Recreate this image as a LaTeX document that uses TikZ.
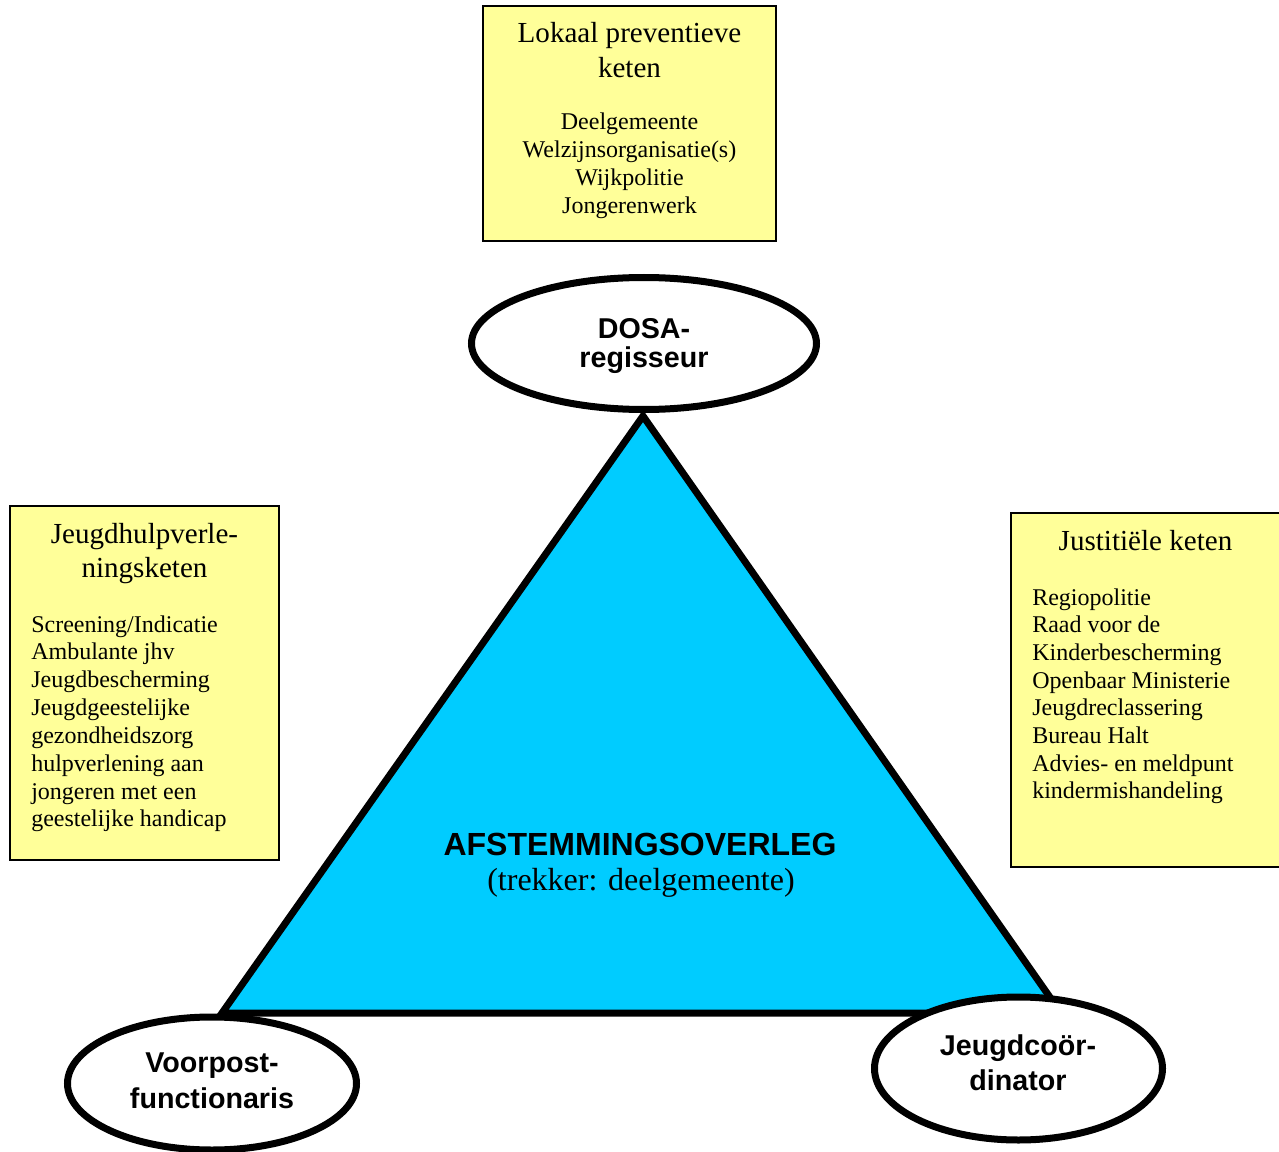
\documentclass[tikz,border=0pt]{standalone}
\usepackage{fontspec}
\setmainfont{Liberation Serif}
\newfontfamily\arialfont{Liberation Sans}
\usetikzlibrary{shapes.geometric}
\definecolor{boxyellow}{HTML}{FFFF99}
\definecolor{triblue}{HTML}{00CCFF}
\begin{document}
\begin{tikzpicture}[x=0.75pt,y=-0.75pt,
  box/.style={draw=black, line width=1.5pt, fill=boxyellow, rectangle, inner sep=0pt},
  ell/.style={draw=black, line width=5.25pt, fill=white, ellipse, inner sep=0pt},
  ttl/.style={font=\fontsize{21.8}{26}\selectfont, anchor=base, inner sep=0pt},
  bdy/.style={font=\fontsize{18}{21}\selectfont, anchor=base, inner sep=0pt},
  bdyl/.style={bdy, anchor=base west},
  elt/.style={font=\arialfont\bfseries\fontsize{21.5}{26}\selectfont, anchor=base, inner sep=0pt},
  ctr/.style={font=\arialfont\bfseries\fontsize{24}{28}\selectfont, anchor=base, inner sep=0pt},
  ctrs/.style={font=\fontsize{24}{28}\selectfont, anchor=base, inner sep=0pt}]
\useasboundingbox (0,0) rectangle (1279,1152);
\fill[white] (0,0) rectangle (1279,1152);

% yellow boxes
\node[box, minimum width=219.75pt, minimum height=176.25pt] (lokaal) at (629.5,123.5) {};
\node[box, minimum width=201.75pt, minimum height=265.5pt] (jhv) at (144.5,683) {};
\node[box, minimum width=203.25pt, minimum height=265.5pt] (just) at (1146.5,690) {};

% top box text
\node[ttl] (lk1) at (629.5,43) {Lokaal preventieve};
\node[ttl] (lk2) at (629.5,78) {keten};
\foreach \t [count=\i] in {Deelgemeente,Welzijnsorganisatie(s),Wijkpolitie,Jongerenwerk}
  \node[bdy] (lb\i) at (629.5,{130+27.7*(\i-1)}) {\t};

% left box text
\node[ttl] (jh1) at (144.5,543) {Jeugdhulpverle-};
\node[ttl] (jh2) at (144.5,577) {ningsketen};
\foreach \t [count=\i] in {Screening/Indicatie,Ambulante jhv,Jeugdbescherming,Jeugdgeestelijke,gezondheidszorg,hulpverlening aan,jongeren met een,geestelijke handicap}
  \node[bdyl] (jb\i) at (31,{632+27.85*(\i-1)}) {\t};

% right box text
\node[ttl] (js1) at (1145.5,550) {Justitiële keten};
\foreach \t [count=\i] in {Regiopolitie,Raad voor de,Kinderbescherming,Openbaar Ministerie,Jeugdreclassering,Bureau Halt,Advies- en meldpunt,kindermishandeling}
  \node[bdyl] (jsb\i) at (1032,{605+27.7*(\i-1)}) {\t};

% triangle
\coordinate (apex) at (643,416);
\coordinate (bl) at (222,1013);
\coordinate (br) at (1061,1013);
\draw[fill=triblue, line width=5.25pt, line join=miter] (apex) -- (bl) -- (br) -- cycle;
\node[ctr] (af) at (640,855) {AFSTEMMINGSOVERLEG};
\node[ctrs] (tr) at (641,890) {(trekker: deelgemeente)};

% ellipses
\node[ell, minimum width=258.75pt, minimum height=99pt] (dosa) at (644,343.5) {};
\node[ell, minimum width=216.75pt, minimum height=99.75pt] (voor) at (212,1083.5) {};
\node[ell, minimum width=216pt, minimum height=107.25pt] (jc) at (1018.5,1068.5) {};

\node[elt] (d1) at (644,338) {DOSA-};
\node[elt] (d2) at (644,367) {regisseur};
\node[elt] (v1) at (212,1072) {Voorpost-};
\node[elt] (v2) at (212,1108) {functionaris};
\node[elt] (j1) at (1018,1055) {Jeugdcoör-};
\node[elt] (j2) at (1018,1090) {dinator};
\end{tikzpicture}
\end{document}
